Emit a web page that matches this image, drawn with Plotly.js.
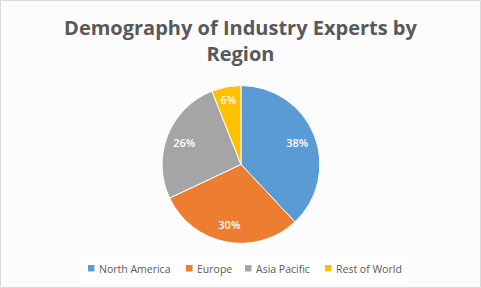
<!DOCTYPE html>
<html>
<head>
<meta charset="utf-8">
<script src="https://cdn.plot.ly/plotly-3.0.1.min.js"></script>
<style>
html,body{margin:0;padding:0;background:#fff;}
#chart{width:481px;height:288px;}
</style>
</head>
<body>
<div id="chart"></div>
<script>
const regions = ["North America", "Europe", "Asia Pacific", "Rest of World"];
const shares = [38, 30, 26, 6];
const colors = ["#5B9BD5", "#ED7D31", "#A5A5A5", "#FFC000"];
const titleText = "Demography of Industry Experts by<br>Region";
// legend entry left edges (px) for the custom legend row
const legendX = [88, 186, 245, 325];

const W = 481, H = 288;
const pieDomain = {x: [0.336, 0.666], y: [0.155, 0.703]};

const pieTrace = {
  type: "pie",
  labels: regions,
  values: shares,
  sort: false,
  direction: "clockwise",
  rotation: 0,
  marker: {colors: colors, line: {color: "#ffffff", width: 1}},
  textinfo: "none",
  domain: pieDomain,
  showlegend: false,
  hoverinfo: "none"
};

// same slices as a ring of transparent wedges, used only to place the labels further out
const labelTrace = {
  type: "pie",
  labels: regions,
  values: shares,
  sort: false,
  direction: "clockwise",
  rotation: 0,
  hole: 0.54,
  marker: {colors: colors.map(() => "rgba(0,0,0,0)"), line: {width: 0}},
  texttemplate: "%{value}%",
  textposition: "inside",
  insidetextorientation: "horizontal",
  textfont: {family: "Open Sans, sans-serif", size: 11, color: "#ffffff", weight: 600},
  domain: pieDomain,
  showlegend: false,
  hoverinfo: "none"
};

const shapes = [
  {type: "rect", xref: "paper", yref: "paper",
   x0: 0.001, x1: 0.999, y0: 0.002, y1: 0.998,
   line: {color: "#D9D9D9", width: 1}},
  {type: "rect", xref: "paper", yref: "paper",
   x0: 80 / W, x1: 408 / W, y0: 1 - 282 / H, y1: 1 - 257 / H,
   fillcolor: "#ffffff", line: {width: 0}, layer: "below"}
];
const annotations = [];
regions.forEach((name, i) => {
  const px = legendX[i];
  shapes.push({type: "rect", xref: "paper", yref: "paper",
    x0: px / W, x1: (px + 6.5) / W, y0: 1 - 271.5 / H, y1: 1 - 265 / H,
    fillcolor: colors[i], line: {width: 0}});
  annotations.push({xref: "paper", yref: "paper", x: (px + 8.5) / W, y: 1 - 268.5 / H,
    xanchor: "left", yanchor: "middle", showarrow: false, text: name,
    font: {family: "Open Sans, sans-serif", size: 10.5, color: "#595959"}});
});

const layout = {
  width: W,
  height: H,
  margin: {l: 0, r: 0, t: 0, b: 0},
  paper_bgcolor: "#fcfcfc",
  plot_bgcolor: "#fcfcfc",
  title: {
    text: "<b>" + titleText + "</b>",
    font: {family: "Open Sans, sans-serif", size: 20, color: "#595959", lineposition: "none"},
    x: 0.5, xanchor: "center",
    y: 1 - 35 / H, yanchor: "middle"
  },
  showlegend: false,
  shapes: shapes,
  annotations: annotations
};

Plotly.newPlot("chart", [pieTrace, labelTrace], layout, {displayModeBar: false, staticPlot: true});
</script>
</body>
</html>
